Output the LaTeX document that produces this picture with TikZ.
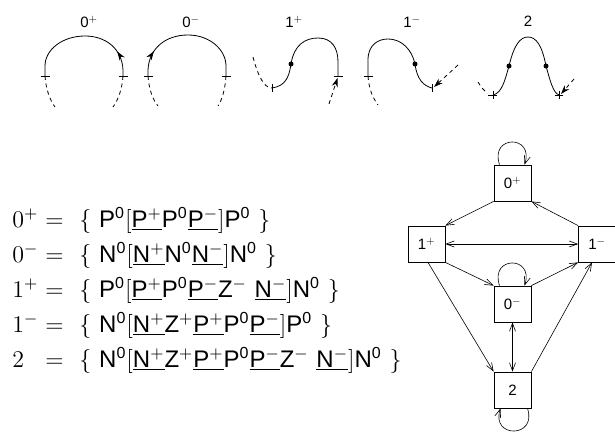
\documentclass[tikz,border=0pt]{standalone}
\usepackage{fontspec}
\setsansfont{Liberation Sans}
\usetikzlibrary{arrows.meta,decorations.markings}
\newcommand\xP{\mathsf{P}}
\newcommand\xN{\mathsf{N}}
\newcommand\xZ{\mathsf{Z}}
\newcommand\xO{\mathsf{0}}
\tikzset{
  crv/.style={line width=0.8pt},
  dsh/.style={line width=0.8pt, dash pattern=on 4pt off 3.5pt},
  tk/.style={line width=0.7pt},
  midarrow/.style={decoration={markings, mark=at position #1 with {\arrow{Stealth[length=9pt,width=6pt]}}}, postaction={decorate}},
  tiparrow/.style={-{Stealth[length=9pt,width=6pt]}},
  lbl/.style={inner sep=0pt, font=\sffamily\fontsize{15}{17}\selectfont},
  stbox/.style={draw, line width=0.8pt, minimum width=37pt, minimum height=36pt, inner sep=0pt, font=\sffamily\fontsize{15}{17}\selectfont},
  edg/.style={line width=0.6pt, -{Straight Barb[length=8pt,width=6pt]}},
  bedg/.style={line width=0.6pt, {Straight Barb[length=8pt,width=6pt]}-{Straight Barb[length=8pt,width=6pt]}},
  eq/.style={inner sep=0pt, anchor=base west, font=\fontsize{12}{14}\selectfont, scale=2, transform shape},
  dot/.style={fill, circle, inner sep=0pt, minimum size=5pt}
}
\begin{document}
\begin{tikzpicture}[x=1pt,y=-1pt]
\useasboundingbox (0,0) rectangle (615,433);
% ---------- top labels
\node[lbl] (l0p) at (89,22) {$\mathsf{0}^{+}$};
\node[lbl] (l0m) at (191,22) {$\mathsf{0}^{-}$};
\node[lbl] (l1p) at (294,22) {$\mathsf{1}^{+}$};
\node[lbl] (l1m) at (412,22) {$\mathsf{1}^{-}$};
\node[lbl] (l2) at (528,21) {2};
% ---------- curve 0+
\draw[crv, midarrow=0.2] (123,76) -- (123,70) .. controls (122,48) and (105,36) .. (85,36) .. controls (62,36) and (45,50) .. (45,66) -- (45,76);
\draw[dsh] (45,76) .. controls (46,90) and (50,100) .. (55,107);
\draw[dsh] (123,76) .. controls (122,90) and (118,100) .. (113,107);
\draw[tk] (40.5,76) -- (49.5,76);
\draw[tk] (118.5,76) -- (127.5,76);
% ---------- curve 0-
\draw[crv, midarrow=0.2] (148,76) -- (148,70) .. controls (149,48) and (166,35) .. (188,35) .. controls (210,35) and (226,50) .. (226,66) -- (226,76);
\draw[dsh] (148,76) .. controls (149,90) and (153,100) .. (158,106);
\draw[dsh] (226,76) .. controls (225,90) and (222,100) .. (218,106);
\draw[tk] (143.5,76) -- (152.5,76);
\draw[tk] (221.5,76) -- (230.5,76);
% ---------- curve 1+
\draw[dsh] (253,57) .. controls (258,76) and (264,88) .. (272,88);
\draw[crv] (272,88) .. controls (285,86) and (289,78) .. (291,64) .. controls (294,45) and (305,38) .. (318,38) .. controls (332,38) and (338,48) .. (338,62) -- (338,76);
\node[dot] (d1) at (291,64) {};
\draw[tk] (272,84) -- (272,92);
\draw[tk] (333.5,76) -- (342.5,76);
\draw[dsh, tiparrow] (329,104) -- (337.5,78);
% ---------- curve 1-
\draw[crv] (368,76) -- (368,60) .. controls (368,45) and (378,39) .. (388,39) .. controls (402,39) and (412,50) .. (415,64) .. controls (417,80) and (424,86) .. (432,88);
\node[dot] (d2) at (415,64) {};
\draw[dsh] (368,76) .. controls (369,90) and (373,98) .. (378,105);
\draw[tk] (363.5,76) -- (372.5,76);
\draw[tk] (432,84) -- (432,92);
\draw[dsh, tiparrow] (458,65) -- (434,87);
% ---------- curve 2
\draw[dsh] (478,82) .. controls (481,87) and (484,91) .. (488,93);
\draw[crv] (493,95) .. controls (502,93) and (505,80) .. (509,66) .. controls (514,45) and (520,37) .. (528,37) .. controls (536,37) and (542,45) .. (546,66) .. controls (550,80) and (553,93) .. (559,95);
\node[dot] (d3) at (509,66) {};
\node[dot] (d4) at (546,66) {};
\draw[tk] (493,91) -- (493,99);
\draw[tk] (559,91) -- (559,99);
\draw[tk] (488,95) -- (497,95);
\draw[tk] (555,95) -- (563,95);
\draw[dsh, tiparrow] (574,79) -- (561,94);
% ---------- formulas
\node[eq] (a1) at (12,227) {$0^{+}$};
\node[eq] (a2) at (12,262) {$0^{-}$};
\node[eq] (a3) at (12,297) {$1^{+}$};
\node[eq] (a4) at (12,332) {$1^{-}$};
\node[eq] (a5) at (12,367) {$2$};
\node[eq] (e1) at (45,227) {$=$};
\node[eq] (e2) at (45,262) {$=$};
\node[eq] (e3) at (45,297) {$=$};
\node[eq] (e4) at (45,332) {$=$};
\node[eq] (e5) at (45,367) {$=$};
\node[eq] (b1) at (79,227) {$\{\ \xP^{\xO}[\underline{\xP^{+}}\xP^{\xO}\underline{\xP^{-}}]\xP^{\xO}\ \}$};
\node[eq] (b2) at (79,262) {$\{\ \xN^{\xO}[\underline{\xN^{+}}\xN^{\xO}\underline{\xN^{-}}]\xN^{\xO}\ \}$};
\node[eq] (b3) at (79,297) {$\{\ \xP^{\xO}[\underline{\xP^{+}}\xP^{\xO}\underline{\xP^{-}}\xZ^{-}\ \underline{\xN^{-}}]\xN^{\xO}\ \}$};
\node[eq] (b4) at (79,332) {$\{\ \xN^{\xO}[\underline{\xN^{+}}\xZ^{+}\underline{\xP^{+}}\xP^{\xO}\underline{\xP^{-}}]\xP^{\xO}\ \}$};
\node[eq] (b5) at (79,367) {$\{\ \xN^{\xO}[\underline{\xN^{+}}\xZ^{+}\underline{\xP^{+}}\xP^{\xO}\underline{\xP^{-}}\xZ^{-}\ \underline{\xN^{-}}]\xN^{\xO}\ \}$};
% ---------- graph
\node[stbox] (n0p) at (512.5,183) {$\mathsf{0}^{+}$};
\node[stbox] (n1p) at (426.5,244) {$\mathsf{1}^{+}$};
\node[stbox] (n1m) at (597,244) {$\mathsf{1}^{-}$};
\node[stbox] (n0m) at (512.5,304) {$\mathsf{0}^{-}$};
\node[stbox] (n2) at (512.5,390) {2};
\draw[edg] (n0p.south west) -- (n1p.north east);
\draw[edg] (n1m.north west) -- (n0p.south east);
\draw[bedg] (n1p.east) -- (n1m.west);
\draw[edg] (n1p.south east) -- (n0m.north west);
\draw[edg] (n0m.north east) -- (n1m.south west);
\draw[edg] ([xshift=1.5pt]n1p.south) -- (n2.north west);
\draw[edg] (n2.north east) -- ([xshift=-5pt]n1m.south);
\draw[bedg] (n0m.south) -- (n2.north);
\draw[edg] ([xshift=-13pt]n0p.north) .. controls +(-10,-30) and +(10,-30) .. ([xshift=12pt]n0p.north);
\draw[edg] ([xshift=-13pt]n0m.north) .. controls +(-10,-30) and +(10,-30) .. ([xshift=12pt]n0m.north);
\draw[edg] ([xshift=15pt]n2.south) .. controls +(10,30) and +(-10,30) .. ([xshift=-12pt]n2.south);
\end{tikzpicture}
\end{document}
